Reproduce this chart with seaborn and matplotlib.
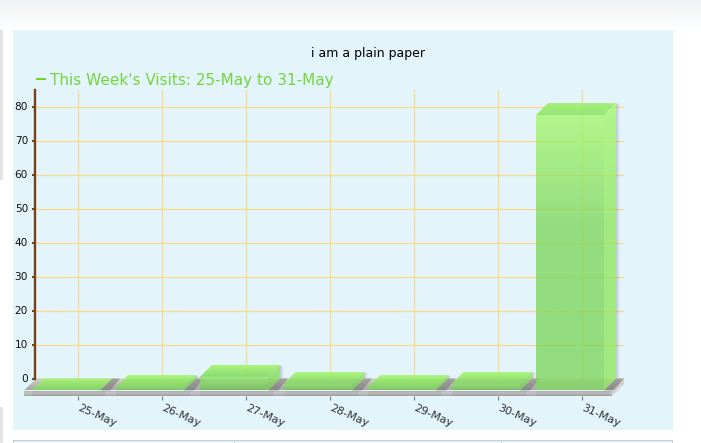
import numpy as np
import pandas as pd
import matplotlib
matplotlib.use("Agg")
import matplotlib.pyplot as plt
from matplotlib.colors import LinearSegmentedColormap, to_rgb
from matplotlib.patches import Polygon, Rectangle
import seaborn as sns

days = ["25-May", "26-May", "27-May", "28-May", "29-May", "30-May", "31-May"]
visits = [0, 1, 4, 2, 1, 2, 81]
y_ticks = [0, 10, 20, 30, 40, 50, 60, 70, 80]
chart_title = "i am a plain paper"
legend_label = "This Week's Visits: 25-May to 31-May"

W, H = 701, 443
sns.set_theme(style="white")
plt.rcParams["font.family"] = ["DejaVu Sans"]
fig = plt.figure(figsize=(W / 100, H / 100), dpi=100, facecolor="white")


def page_rect(x0, y0, x1, y1, color, z=-10):
    fig.add_artist(Rectangle((x0 / W, 1 - y1 / H), (x1 - x0) / W, (y1 - y0) / H,
                             transform=fig.transFigure, facecolor=color,
                             edgecolor="none", zorder=z))


# page chrome around the chart
c0, c1 = np.array(to_rgb("#eef1f5")), np.array(to_rgb("#ffffff"))
for r in range(30):
    page_rect(0, r, W, r + 1, tuple(c0 + (c1 - c0) * r / 30))
page_rect(0, 30, 3, 180, "#e4e4e4")
page_rect(0, 407, 3, 443, "#e4e4e4")
page_rect(13, 30, 673, 430, "#e3f4fb")
page_rect(13, 440, 673, 443, "#e6f5fb")
page_rect(13, 440, 673, 441, "#cccccc")
page_rect(13, 440, 14, 443, "#cccccc")
page_rect(234, 440, 235, 443, "#cccccc")
page_rect(501, 440, 502, 443, "#cccccc")
page_rect(672, 440, 673, 443, "#cccccc")

# plot area
left, right, top, bottom = 36, 624, 90, 378.5
ax = fig.add_axes([left / W, 1 - bottom / H, (right - left) / W, (bottom - top) / H])
ax.patch.set_alpha(0)

df = pd.DataFrame({"day": days, "visits": visits})
sns.barplot(data=df, x="day", y="visits", width=68 / 84, ax=ax, color="#96dc84", zorder=3)

ax.set_xlim(-0.5, 6.5)
ax.set_ylim(0, (bottom - top) / 3.4)
dx = 12 / ((right - left) / 7)
dy = 12 / 3.4
depth_px = 5.5 / 3.4

ax.set_xlabel("")
ax.set_ylabel("")
ax.set_yticks(y_ticks)
ax.set_axisbelow(True)
ax.tick_params(axis="y", left=True, length=2.4, width=1.4, color="#784016", pad=2.6,
               labelsize=7.6, labelcolor="#111111")
ax.tick_params(axis="x", bottom=True, length=3, width=0.8, color="#777777", pad=5.5,
               labelsize=8.0, labelcolor="#333333")
for s in ("top", "right"):
    ax.spines[s].set_visible(False)
ax.spines["left"].set_color("#784016")
ax.spines["left"].set_linewidth(1.7)
ax.spines["left"].set_position(("outward", 0.7))
ax.spines["bottom"].set_position(("outward", 17.5 * 0.72))


def grad(xa, xb, ya, yb, stops, clip, z, alpha=1.0):
    cmap = LinearSegmentedColormap.from_list("g", stops)
    im = ax.imshow(np.linspace(0, 1, 256).reshape(-1, 1), extent=(xa, xb, yb, ya),
                   origin="upper", cmap=cmap, aspect="auto", zorder=z, alpha=alpha,
                   interpolation="bilinear")
    clip.set_transform(ax.transData)
    im.set_clip_path(clip)
    im.set_clip_box(fig.bbox)
    return im


def shade(points, color, alpha, z):
    ax.add_patch(Polygon(points, closed=True, facecolor=color, alpha=alpha,
                         edgecolor="none", zorder=z, clip_on=False))


# floor and base slab
x_l, x_r = -0.5, 6.5
floor = Polygon([(x_l - dx, -dy), (x_r - dx, -dy), (x_r, 0), (x_l, 0)], closed=True)
grad(x_l - dx, x_r, 0, -dy, ["#d4d3cc", "#a6a6a6"], floor, 1)
slab = Polygon([(x_l - dx, -dy), (x_r - dx, -dy), (x_r - dx, -dy - depth_px),
                (x_l - dx, -dy - depth_px)], closed=True)
grad(x_l - dx, x_r - dx, -dy, -dy - depth_px, ["#a8a8a8", "#cacaca", "#a2a2a2"], slab, 1.1)
shade([(x_r - dx, -dy), (x_r, 0), (x_r, -depth_px), (x_r - dx, -dy - depth_px)], "#d2d2d0", 1, 1.1)

# 3D bars, built from the bars seaborn laid out
ALPHA = 0.8
for i, patch in enumerate(ax.patches[:len(visits)]):
    x0, x1 = patch.get_x(), patch.get_x() + patch.get_width()
    v = patch.get_height()
    patch.set_visible(False)
    z = 3 + i * 0.01
    # soft shadow right of the bar and on the floor
    for k, a in ((4, 0.05), (3, 0.06), (2, 0.08), (1, 0.10)):
        e = k / 84
        shade([(x1, 0), (x1 + e, 0), (x1 + e, v - 0.4), (x1, v)], "#5a6470", a, z - 0.005)
    shade([(x1 - dx, -dy), (x1 - dx + 10 / 84, -dy), (x1 + 8 / 84, 0), (x1, 0)], "#5a5a5a", 0.4, 2)
    shade([(x0 - dx, -dy), (x1 - dx + 6 / 84, -dy), (x1 - dx + 6 / 84, -dy - depth_px),
           (x0 - dx, -dy - depth_px)], "#707070", 0.12, 2)
    if v > 20:
        front_stops = [(0, "#a7f770"), (0.42, "#80d661"), (1, "#80d661")]
        side_stops = [(0, "#a7f770"), (0.42, "#92e75f"), (1, "#92e75f")]
        top_stops = ["#9ef06c", "#8ee46a"]
    else:
        front_stops = [(0, "#8ce868"), (1, "#74c458")]
        side_stops = [(0, "#92e75f"), (1, "#74cc58")]
        top_stops = ["#a7f770", "#80d661"]
    top_face = Polygon([(x0 - dx, v - dy), (x1 - dx, v - dy), (x1, v), (x0, v)], closed=True)
    grad(x0 - dx, x1, v, v - dy, top_stops, top_face, z, alpha=ALPHA + 0.1)
    if v > 0:
        front = Polygon([(x0 - dx, -dy), (x1 - dx, -dy), (x1 - dx, v - dy), (x0 - dx, v - dy)],
                        closed=True)
        grad(x0 - dx, x1 - dx, v - dy, -dy, front_stops, front, z, alpha=ALPHA)
        side = Polygon([(x1 - dx, -dy), (x1, 0), (x1, v), (x1 - dx, v - dy)], closed=True)
        grad(x1 - dx, x1, v, -dy, side_stops, side, z, alpha=ALPHA)

ax.set_xlim(-0.5, 6.5)
ax.set_ylim(0, (bottom - top) / 3.4)
ax.yaxis.grid(True, color="#fcd98a", linewidth=0.9)
ax.xaxis.grid(True, color="#fcd98a", linewidth=0.9)
fig.canvas.draw()
ax.spines["bottom"].set_visible(False)
for lab in ax.get_xticklabels():
    lab.set(rotation=-24, ha="left", va="center", rotation_mode="anchor")

# title and legend
fig.text(367.5 / W, 1 - 54 / H, chart_title, ha="center", va="center",
         fontsize=9.0, color="#000000")
fig.add_artist(Rectangle((36 / W, 1 - 80 / H), 10 / W, 2 / H, transform=fig.transFigure,
                         facecolor="#6fd62e", edgecolor="none"))
fig.text(50 / W, 1 - 80 / H, legend_label, ha="left", va="center",
         fontsize=11.03, color="#72d63c")

fig.savefig("out.png", dpi=100)
